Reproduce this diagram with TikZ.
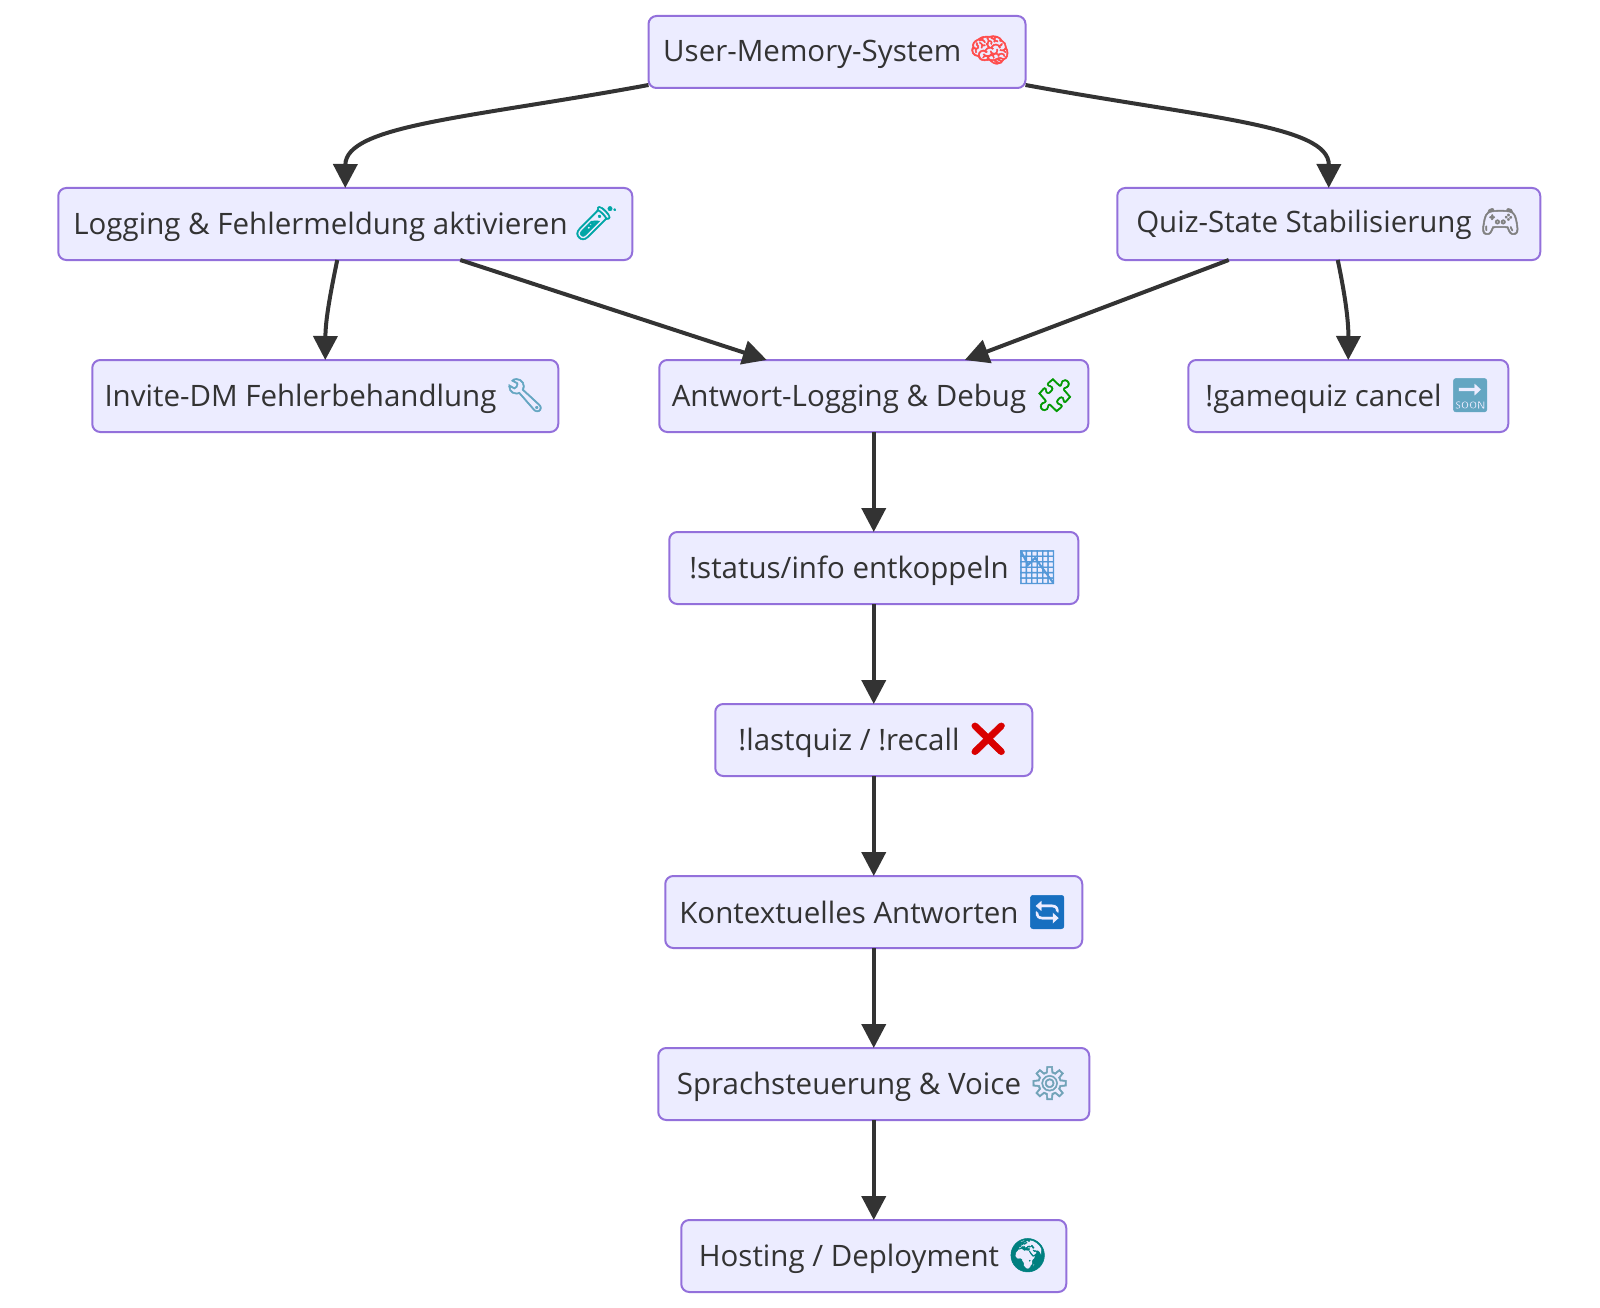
\documentclass[tikz,border=0pt]{standalone}
\usepackage{fontspec}
\setmainfont{Open Sans}
\newfontfamily\emojifont{Noto Emoji}[FakeBold=1.5]
\usetikzlibrary{arrows.meta}
\definecolor{boxfill}{HTML}{ECECFF}
\definecolor{boxline}{HTML}{9370DB}
\definecolor{inkdark}{HTML}{333333}
\newcommand{\emo}[2]{{\color{#1}\fontsize{33}{34}\emojifont #2}}
\begin{document}
\begin{tikzpicture}[
            level distance=172pt,
            every node/.style={rectangle,draw=boxline,fill=boxfill,line width=2pt,rounded corners=8pt,outer sep=0pt,
                minimum height=72pt,inner xsep=5pt,inner ysep=0pt,text=inkdark,font=\fontsize{29.5}{34}\selectfont},
            edge from parent/.style={draw=none},
            level 1/.style={sibling distance=983.5pt},
            level 2/.style={sibling distance=548.5pt},
            link/.style={draw=inkdark,line width=4pt,-{Triangle[length=24pt,width=24pt]}}
        ]
        \useasboundingbox (0,0) rectangle (1600pt,-1308pt);

        \node[minimum width=377pt] (root) at (837pt,-52pt) {User-Memory-System \emo{red!70!white}{🧠}}
        child {node[minimum width=574pt] (logging) {Logging \& Fehlermeldung aktivieren \emo{teal!70!cyan}{🧪}}
                child[xshift=254.25pt] {node[minimum width=466pt] (invite) {Invite-DM Fehlerbehandlung \emo{cyan!50!gray}{🔧}}
                    }
                child[xshift=254.25pt] {node[minimum width=429pt] (antwort) {Antwort-Logging \& Debug \emo{green!60!black}{🧩}}
                        child {node[minimum width=409pt] (status) {!status/info entkoppeln \emo{cyan!60!blue!70!white}{📉}}
                                child {node[minimum width=317pt] (lastquiz) {!lastquiz / !recall \emo{red!85!black}{❌}}
                                        child {node[minimum width=417pt] (kontext) {Kontextuelles Antworten \emo{cyan!50!blue}{🔄}}
                                                child {node[minimum width=431pt] (sprache) {Sprachsteuerung \& Voice \emo{cyan!40!gray}{⚙}}
                                                        child {node[minimum width=385pt] (hosting) {Hosting / Deployment \emo{green!50!blue}{🌍}}
                                                            }
                                                    }
                                            }
                                    }
                            }
                    }
            }
        child {node[minimum width=423pt] (quiz) {Quiz-State Stabilisierung \emo{gray}{🎮}}
                child[xshift=19.5pt] {node[minimum width=320pt] (cancel) {!gamequiz cancel \emo{cyan!50!gray}{🔜}}
                    }
            };

        \draw[link] ([yshift=3pt]root.south west) .. controls (470pt,-118pt) and (345.5pt,-125pt) .. (logging.north);
        \draw[link] ([yshift=3pt]root.south east) .. controls (1205pt,-118pt) and (1329pt,-125pt) .. (quiz.north);
        \draw[link] ([xshift=-8pt]logging.south) .. controls (330pt,-295pt) and (325.5pt,-320pt) .. (invite.north);
        \draw[link] ([xshift=115pt]logging.south) -- ([xshift=-107pt]antwort.north);
        \draw[link] ([xshift=-100pt]quiz.south) -- ([xshift=91pt]antwort.north);
        \draw[link] ([xshift=9pt]quiz.south) .. controls (1345pt,-295pt) and (1348.5pt,-320pt) .. (cancel.north);
        \foreach \from/\to in {antwort/status,status/lastquiz,lastquiz/kontext,kontext/sprache,sprache/hosting}
            \draw[link] (\from) -- (\to);

    \end{tikzpicture}
\end{document}
